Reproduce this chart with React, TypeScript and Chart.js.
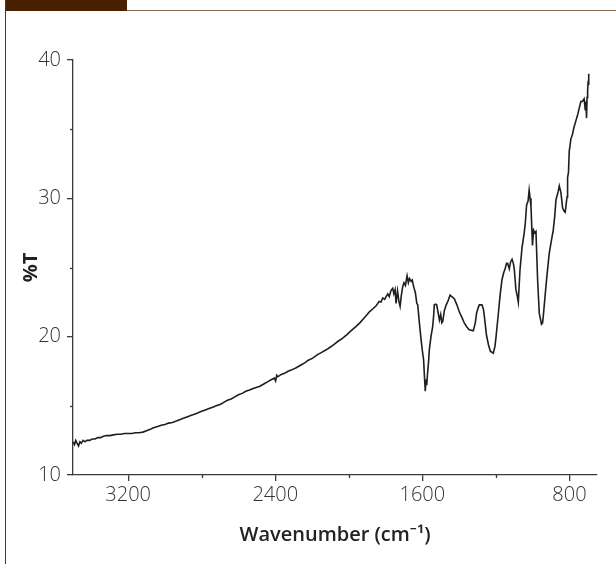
import React, { useEffect, useRef } from 'react';
import { Chart, registerables } from 'chart.js';

Chart.register(...registerables);

// Wavenumber (cm-1) positions and % transmittance
const wavenumbers = [
  3500, 3492, 3485, 3478, 3470, 3462, 3455, 3445, 3435, 3425, 3410, 3395, 3380, 3365, 3350, 3335,
  3318, 3300, 3280, 3260, 3240, 3220, 3200, 3180, 3160, 3140, 3120, 3100, 3080, 3065, 3040, 3020,
  3000, 2980, 2960, 2938, 2920, 2900, 2880, 2860, 2840, 2829, 2800, 2780, 2760, 2740, 2721, 2700,
  2680, 2660, 2640, 2620, 2600, 2580, 2560, 2540, 2520, 2500, 2486, 2460, 2440, 2420, 2405, 2398,
  2392, 2386, 2370, 2350, 2330, 2310, 2286, 2260, 2240, 2220, 2196, 2170, 2150, 2123, 2100, 2080,
  2060, 2033, 2010, 1990, 1960, 1940, 1920, 1900, 1888, 1870, 1850, 1835, 1825, 1815, 1805, 1797,
  1788, 1780, 1770, 1761, 1755, 1748, 1743, 1735, 1728, 1721, 1714, 1707, 1700, 1692, 1683, 1676,
  1670, 1661, 1655, 1647, 1638, 1630, 1625, 1616, 1607, 1600, 1593, 1588, 1584, 1580, 1576, 1572,
  1566, 1562, 1553, 1544, 1538, 1535, 1528, 1522, 1515, 1507, 1500, 1494, 1489, 1480, 1470, 1460,
  1449, 1440, 1426, 1412, 1399, 1385, 1372, 1358, 1345, 1323, 1312, 1305, 1296, 1290, 1276, 1268,
  1263, 1251, 1240, 1230, 1214, 1205, 1199, 1187, 1177, 1167, 1158, 1149, 1142, 1136, 1127, 1120,
  1112, 1105, 1100, 1091, 1083, 1078, 1069, 1058, 1046, 1040, 1033, 1025, 1019, 1014, 1009, 1001,
  995, 988, 982, 973, 964, 952, 946, 942, 928, 920, 910, 900, 888, 880, 873, 861,
  855, 846, 837, 828, 823, 813, 810, 805, 801, 792, 784, 774, 765, 756, 747, 738,
  730, 720, 714, 710, 707, 704, 701, 698, 696, 694,
];

const transmittance = [
  12.4, 12.2, 12.5, 12.3, 12.1, 12.4, 12.3, 12.5, 12.4, 12.5, 12.5, 12.6, 12.6, 12.7, 12.7, 12.8,
  12.85, 12.85, 12.9, 12.95, 12.95, 13.0, 13.0, 13.0, 13.05, 13.05, 13.1, 13.2, 13.3, 13.4, 13.5, 13.6,
  13.65, 13.75, 13.8, 13.9, 14.0, 14.1, 14.2, 14.3, 14.4, 14.45, 14.6, 14.7, 14.8, 14.9, 15.0, 15.1,
  15.25, 15.4, 15.5, 15.65, 15.8, 15.9, 16.05, 16.15, 16.25, 16.35, 16.4, 16.6, 16.75, 16.9, 17.0, 16.8,
  17.2, 17.1, 17.25, 17.35, 17.5, 17.6, 17.75, 17.95, 18.1, 18.3, 18.45, 18.7, 18.85, 19.05, 19.25, 19.45,
  19.65, 19.9, 20.15, 20.4, 20.75, 21.0, 21.3, 21.6, 21.8, 22.0, 22.25, 22.55, 22.5, 22.8, 22.7, 22.9,
  23.1, 22.9, 23.35, 23.5, 23.1, 23.4, 22.4, 23.3, 22.6, 22.2, 23.0, 23.6, 23.9, 23.7, 24.4, 23.9,
  24.2, 24.0, 24.1, 23.6, 23.2, 22.4, 22.3, 21.0, 19.8, 19.0, 18.3, 17.0, 16.05, 16.9, 16.5, 17.3,
  18.2, 19.05, 20.0, 20.7, 21.6, 22.3, 22.35, 22.3, 21.8, 21.2, 21.6, 21.0, 21.1, 21.9, 22.3, 22.6,
  23.0, 22.9, 22.75, 22.3, 21.8, 21.4, 21.0, 20.7, 20.5, 20.42, 21.0, 21.7, 22.1, 22.3, 22.3, 22.0,
  21.5, 20.1, 19.4, 18.95, 18.8, 19.3, 20.0, 21.6, 23.0, 24.1, 24.6, 24.95, 25.3, 25.3, 24.9, 25.4,
  25.6, 25.3, 24.9, 23.4, 22.9, 22.5, 24.8, 26.4, 27.5, 28.2, 29.5, 29.8, 30.6, 30.0, 29.4, 26.6,
  27.7, 27.5, 27.6, 24.1, 21.7, 20.9, 21.0, 21.5, 23.6, 24.7, 26.0, 26.8, 27.7, 28.7, 29.9, 30.5,
  30.9, 30.4, 29.3, 29.05, 29.0, 30.1, 31.5, 31.9, 33.4, 34.3, 34.6, 35.2, 35.6, 36.0, 36.5, 37.0,
  37.0, 37.2, 36.4, 37.0, 35.8, 37.3, 37.8, 38.5, 39.0, 38.2,
];

const xTickValues = [3200, 2400, 1600, 800];
const xMinorTickValues = [2800, 2000, 1200];
const yTickValues = [10, 20, 30, 40];
const yMinorTickValues = [15, 25, 35];

const AXIS_COLOR = '#3a3a3a';
const TEXT_COLOR = '#333333';
const LINE_COLOR = '#1e1e1e';

const minorTicksPlugin = {
  id: 'minorTicks',
  afterDraw(chart: any) {
    const ctx = chart.ctx;
    const xs = chart.scales.x;
    const ys = chart.scales.y;
    const area = chart.chartArea;
    ctx.save();
    ctx.strokeStyle = AXIS_COLOR;
    ctx.lineWidth = 1.3;
    xMinorTickValues.forEach((v) => {
      const px = Math.round(xs.getPixelForValue(v)) + 0.5;
      ctx.beginPath();
      ctx.moveTo(px, area.bottom);
      ctx.lineTo(px, area.bottom + 3);
      ctx.stroke();
    });
    yMinorTickValues.forEach((v) => {
      const py = Math.round(ys.getPixelForValue(v)) + 0.5;
      ctx.beginPath();
      ctx.moveTo(area.left, py);
      ctx.lineTo(area.left - 3, py);
      ctx.stroke();
    });
    ctx.restore();
  },
};

export default function App() {
  const canvasRef = useRef<HTMLCanvasElement | null>(null);

  useEffect(() => {
    if (!canvasRef.current) return;
    const points = wavenumbers.map((w, i) => ({ x: w, y: transmittance[i] }));
    const chart = new Chart(canvasRef.current, {
      type: 'line',
      data: {
        datasets: [
          {
            data: points,
            borderColor: LINE_COLOR,
            borderWidth: 1.6,
            pointRadius: 0,
            tension: 0,
            fill: false,
          },
        ],
      },
      options: {
        animation: false,
        responsive: false,
        devicePixelRatio: 1,
        layout: { padding: { top: 60, right: 19, left: 0, bottom: 0 } },
        plugins: {
          legend: { display: false },
          tooltip: { enabled: false },
        },
        scales: {
          x: {
            type: 'linear',
            reverse: true,
            min: 650,
            max: 3500,
            afterBuildTicks: (scale: any) => {
              scale.ticks = xTickValues.map((v) => ({ value: v }));
            },
            afterFit: (scale: any) => {
              scale.height = 89;
            },
            grid: {
              display: true,
              drawOnChartArea: false,
              drawTicks: true,
              tickLength: 6,
              color: AXIS_COLOR,
              lineWidth: 1.3,
            },
            border: { display: true, color: AXIS_COLOR, width: 1.3 },
            ticks: {
              color: TEXT_COLOR,
              padding: 2,
              maxRotation: 0,
              autoSkip: false,
              font: { family: "'Open Sans', 'Noto Sans', sans-serif", size: 20, weight: 300 },
              callback: (v: any) => String(v),
            },
            title: {
              display: true,
              text: 'Wavenumber (cm⁻¹)',
              color: '#222222',
              padding: { top: 0, bottom: 17 },
              font: { family: "'Open Sans', 'Noto Sans', sans-serif", size: 20, weight: 600 },
            },
          },
          y: {
            type: 'linear',
            min: 10,
            max: 40,
            afterBuildTicks: (scale: any) => {
              scale.ticks = yTickValues.map((v) => ({ value: v }));
            },
            afterFit: (scale: any) => {
              scale.width = 73;
            },
            grid: {
              display: true,
              drawOnChartArea: false,
              drawTicks: true,
              tickLength: 6,
              color: AXIS_COLOR,
              lineWidth: 1.3,
            },
            border: { display: true, color: AXIS_COLOR, width: 1.3 },
            ticks: {
              color: TEXT_COLOR,
              padding: 6,
              autoSkip: false,
              font: { family: "'Open Sans', 'Noto Sans', sans-serif", size: 20, weight: 300 },
              callback: (v: any) => String(v),
            },
            title: {
              display: true,
              text: '%T',
              color: '#222222',
              padding: { top: 19, bottom: 0 },
              font: { family: "'Open Sans', 'Noto Sans', sans-serif", size: 20, weight: 700 },
            },
          },
        },
      },
      plugins: [minorTicksPlugin],
    } as any);
    return () => chart.destroy();
  }, []);

  return (
    <div style={{ position: 'fixed', left: 0, top: 0, width: 616, height: 564, background: '#ffffff' }}>
      <div style={{ position: 'absolute', left: 5, top: 0, width: 122, height: 11, background: '#4a2100' }} />
      <div style={{ position: 'absolute', left: 127, top: 10, width: 489, height: 1, background: '#8a6c58' }} />
      <div style={{ position: 'absolute', left: 5, top: 0, width: 1, height: 564, background: '#5a2e10' }} />
      <canvas
        ref={canvasRef}
        width={616}
        height={564}
        style={{ position: 'absolute', left: 0, top: 0, width: 616, height: 564 }}
      />
    </div>
  );
}
